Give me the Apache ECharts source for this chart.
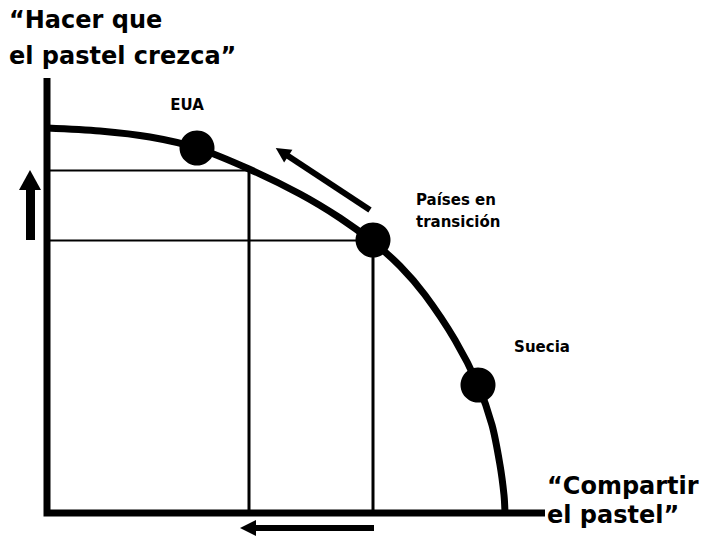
<!DOCTYPE html>
<html>
<head>
<meta charset="utf-8">
<script src="https://cdn.jsdelivr.net/npm/echarts@6/dist/echarts.min.js"></script>
<style>html,body{margin:0;padding:0;background:#fff}#c{width:702px;height:537px}</style>
</head>
<body>
<div id="c"></div>
<script>
// ---- data ----
var curveX = [0, 10.6, 20.6, 30, 40.4, 50.6, 58.6, 65.2, 70.6, 75.6, 81.6, 86.2, 89, 90.6, 91.4, 91.6];
var curveY = [77, 76.4, 75.2, 73, 68.8, 63.8, 59, 54.2, 49.4, 43.6, 34.6, 25.6, 17.6, 9.6, 3.6, 0];
var pointNames = ['EUA', 'Países en\ntransición', 'Suecia'];
var pointX = [30, 65.2, 86.2];
var pointY = [73, 54.6, 25.6];
var guideX = [40.4, 65.2];
var guideY = [68.5, 54.5];
var axisXEnd = 99.6;
var axisYTop = 87;
var yTitle = '“Hacer que\nel pastel crezca”';
var xTitle = '“Compartir\nel pastel”';
// arrows: [x1, y1, x2, y2] (tail -> head), data units
var arrowUp = [-3.4, 54.6, -3.4, 66.6];
var arrowLeft = [65.4, -3, 40.2, -3];
var arrowCurve = [64.6, 60.6, 47, 72.2];

// ---- chart ----
var FONT = 'DejaVu Sans';
var chart = echarts.init(document.getElementById('c'), null, {renderer: 'svg'});
var labelStyles = [
  {align: 'center', verticalAlign: 'middle', offset: [-10, -43]},
  {align: 'left', verticalAlign: 'middle', offset: [43, -29], lineHeight: 22},
  {align: 'center', verticalAlign: 'middle', offset: [64, -38]}
];
var dots = pointNames.map(function (n, i) {
  return {
    name: n, value: [pointX[i], pointY[i]],
    label: Object.assign({show: true, position: 'inside', formatter: '{b}', color: '#000',
      fontFamily: FONT, fontWeight: 'bold', fontSize: 15}, labelStyles[i])
  };
});
function arrow(a, w, head, curv) {
  return [
    {coord: [a[0], a[1]], symbol: 'none', lineStyle: {width: w, color: '#000', type: 'solid', opacity: 1, curveness: curv || 0}},
    {coord: [a[2], a[3]], symbol: 'triangle', symbolSize: head}
  ];
}
function plain(data, w) {
  return {type: 'line', data: data, symbol: 'none', silent: true,
    lineStyle: {color: '#000', width: w, join: 'miter'}};
}
var option = {
  animation: false,
  title: [
    {text: yTitle, left: 9, top: 2, padding: 0,
      textStyle: {fontFamily: FONT, fontWeight: 'bold', fontSize: 24, lineHeight: 36, color: '#000'}},
    {text: xTitle, left: 547, top: 471, padding: 0,
      textStyle: {fontFamily: FONT, fontWeight: 'bold', fontSize: 24, lineHeight: 29, color: '#000'}}
  ],
  grid: {left: 7, top: 78, width: 540, height: 455},
  xAxis: {type: 'value', min: -8, max: 100,
    axisLine: {show: false}, axisTick: {show: false}, axisLabel: {show: false}, splitLine: {show: false}},
  yAxis: {type: 'value', min: -4, max: 87,
    axisLine: {show: false}, axisTick: {show: false}, axisLabel: {show: false}, splitLine: {show: false}},
  series: [
    plain([[0, guideY[0]], [guideX[0], guideY[0]]], 2),
    plain([[guideX[0], guideY[0]], [guideX[0], 0]], 3),
    plain([[0, guideY[1]], [guideX[1], guideY[1]]], 2),
    plain([[guideX[1], guideY[1]], [guideX[1], 0]], 3),
    plain([[0, axisYTop], [0, 0], [axisXEnd, 0]], 7),
    Object.assign(plain(curveX.map(function (x, i) { return [x, curveY[i]]; }), 7), {smooth: 0.3}),
    {type: 'scatter', data: dots, symbol: 'circle', symbolSize: 35,
      itemStyle: {color: '#000', opacity: 1}, silent: true, clip: false,
      markLine: {silent: true, animation: false, label: {show: false},
        itemStyle: {color: '#000', opacity: 1},
        data: [arrow(arrowUp, 9, [22, 20]), arrow(arrowLeft, 6, [16, 16]), arrow(arrowCurve, 6, [15, 15], -0.1)]}}
  ]
};
chart.setOption(option);
</script>
</body>
</html>
